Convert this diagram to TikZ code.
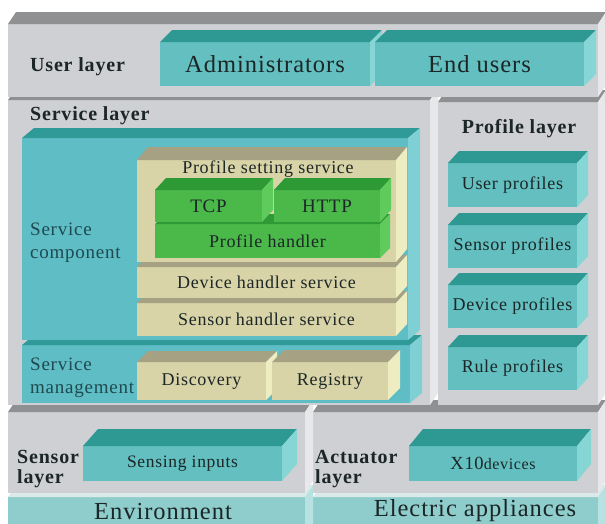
\documentclass[tikz,border=0pt]{standalone}
\usepackage{fontspec}
\setmainfont{Liberation Serif}[LetterSpace=4]
\definecolor{grayF}{HTML}{CFD0D3}
\definecolor{grayT}{HTML}{8F9092}
\definecolor{grayS}{HTML}{E8E8EA}
\definecolor{tealF}{HTML}{63BFC0}
\definecolor{tealT}{HTML}{2E9892}
\definecolor{tealS}{HTML}{86D6D6}
\definecolor{bigF}{HTML}{5FBDC5}
\definecolor{bigT}{HTML}{2F9A98}
\definecolor{bigS}{HTML}{7FD0D5}
\definecolor{tanF}{HTML}{D8D4A8}
\definecolor{tanT}{HTML}{A6A183}
\definecolor{tanS}{HTML}{EEEDC2}
\definecolor{greenF}{HTML}{4BB84A}
\definecolor{greenT}{HTML}{2E9A35}
\definecolor{greenS}{HTML}{5FCB5C}
\definecolor{envF}{HTML}{8ECDCC}
\definecolor{envT}{HTML}{DCE9E9}
\definecolor{envS}{HTML}{B8E2E2}
\definecolor{txt}{HTML}{1C2626}
\definecolor{svc}{HTML}{1F4A50}
\newcommand{\blk}[9]{%
  \node[front,fill=#8F,anchor=north west,minimum width={(#4)-(#2)},minimum height={(#5)-(#3)}] (#1) at (#2,#3) {#9};
  \fill[#8T] (#1.north west) -- ++(#6pt,#7pt) -- ([shift={(#6pt,#7pt)}]#1.north east) -- (#1.north east) -- cycle;
  \fill[#8S] (#1.north east) -- ++(#6pt,#7pt) -- ([shift={(#6pt,#7pt)}]#1.south east) -- (#1.south east) -- cycle;}
\begin{document}
\begin{tikzpicture}[x=1pt,y=-1pt,
  front/.style={draw=none,inner sep=0pt,outer sep=0pt,text=txt},
  lbl/.style={font=\fontsize{20}{24}\selectfont\bfseries,text=txt,inner sep=0pt,anchor=base west},
  svclbl/.style={font=\fontsize{19}{22}\selectfont,text=svc,inner sep=0pt,anchor=base west}]
\useasboundingbox (0,0) rectangle (605,523);
\clip (0,0) rectangle (605,523);
\fill[white] (0,0) rectangle (605,523);
% ---- bottom: environment ----
\blk{elec}{313}{497}{598}{540}{8}{12}{env}{}
\blk{env}{8}{497}{305}{540}{8}{12}{env}{}
\node[text=txt,inner sep=0pt] (envtxt) at (163,511) {\fontsize{24.5}{28}\selectfont Environment};
\node[text=txt,inner sep=0pt] (electxt) at (475,511) {\fontsize{24.5}{28}\selectfont Electric appliances};
% ---- sensor / actuator layers ----
\blk{act}{313}{412}{598}{493}{8}{12}{gray}{}
\blk{sens}{8}{412}{305}{493}{8}{12}{gray}{}
\blk{sensin}{83}{446}{282}{481}{15}{17}{teal}{\fontsize{17.5}{20}\selectfont Sensing inputs}
\blk{x10}{409}{446}{577}{481}{14}{17}{teal}{\fontsize{18.5}{20}\selectfont X10\fontsize{16}{18}\selectfont devices}
\node[lbl] (sensl1) at (17,463) {Sensor};
\node[lbl] (sensl2) at (17,483) {layer};
\node[lbl] (actl1) at (315,463) {Actuator};
\node[lbl] (actl2) at (315,483) {layer};
% ---- profile layer ----
\blk{prof}{438}{102}{598}{405}{8}{12}{gray}{}
\node[lbl,anchor=base] (proflbl) at (519,133) {Profile layer};
\blk{rulep}{448}{347}{577}{390}{11}{12}{teal}{\fontsize{18}{22}\selectfont Rule profiles}
\blk{devp}{448}{285}{577}{328}{11}{12}{teal}{\fontsize{18}{22}\selectfont Device profiles}
\blk{sensp}{448}{225}{577}{268}{11}{12}{teal}{\fontsize{18}{22}\selectfont Sensor profiles}
\blk{userp}{448}{163}{577}{207}{11}{12}{teal}{\fontsize{18}{22}\selectfont User profiles}
% ---- service layer ----
\blk{svc}{8}{100}{430}{405}{8}{12}{gray}{}
\node[lbl] (svclbl) at (30,120) {Service layer};
\blk{mgmt}{22}{345}{410}{403}{12}{10}{big}{}
\blk{disc}{137}{362}{266}{400}{11}{11}{tan}{\fontsize{18}{22}\selectfont Discovery}
\blk{reg}{272}{362}{388}{400}{12}{12}{tan}{\fontsize{18}{22}\selectfont Registry}
\node[svclbl] (mg1) at (30,370) {Service};
\node[svclbl] (mg2) at (30,393) {management};
\blk{comp}{22}{138}{408}{340}{12}{10}{big}{}
\node[svclbl] (cp1) at (30,235) {Service};
\node[svclbl] (cp2) at (30,258) {component};
\blk{shs}{137}{303}{396}{336}{11}{12}{tan}{\fontsize{18}{22}\selectfont Sensor handler service}
\blk{dhs}{137}{267}{396}{298}{11}{12}{tan}{\fontsize{18}{22}\selectfont Device handler service}
\blk{pss}{137}{160}{396}{262}{11}{13}{tan}{}
\node[text=txt,inner sep=0pt,anchor=base] (psstxt) at (268,173) {\fontsize{18}{22}\selectfont Profile setting service};
\blk{ph}{155}{224}{380}{258}{10}{10}{green}{\fontsize{18}{22}\selectfont Profile handler}
\blk{tcp}{155}{190}{262}{222}{11}{12}{green}{\fontsize{19}{22}\selectfont TCP}
\blk{http}{274}{190}{380}{222}{11}{12}{green}{\fontsize{19}{22}\selectfont HTTP}
% ---- user layer ----
\blk{user}{8}{24}{598}{97}{8}{12}{gray}{}
\node[lbl] (userlbl) at (30,71) {User layer};
\blk{admin}{160}{42}{370}{86}{12}{12}{teal}{\fontsize{24.5}{28}\selectfont Administrators}
\blk{endu}{375}{42}{584}{86}{12}{12}{teal}{\fontsize{24.5}{28}\selectfont End users}
\end{tikzpicture}
\end{document}
